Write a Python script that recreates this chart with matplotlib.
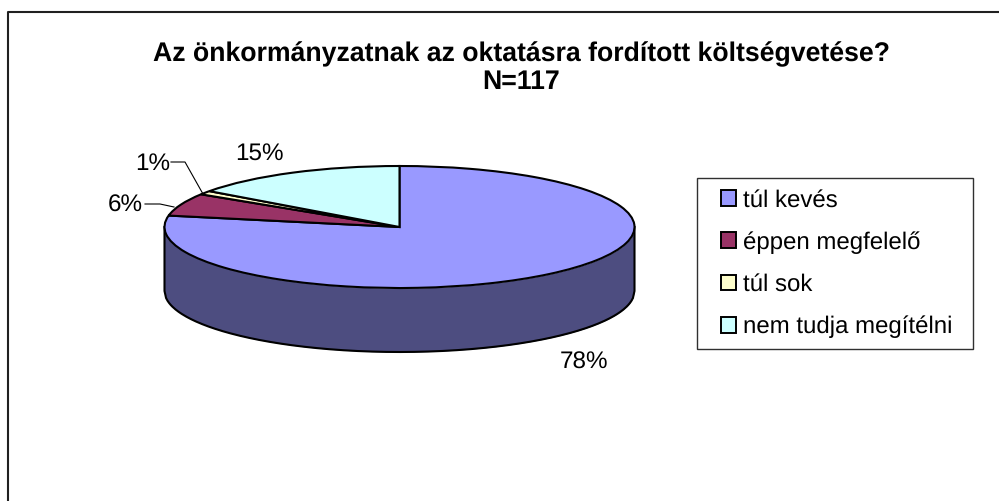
import numpy as np
import matplotlib
matplotlib.use("Agg")
import matplotlib.pyplot as plt
from matplotlib.patches import Patch, Rectangle

plt.rcParams['font.family'] = ['Liberation Sans', 'DejaVu Sans']
plt.rcParams['text.hinting'] = 'no_hinting'

W, H = 999, 501

# adatok
title = "Az önkormányzatnak az oktatásra fordított költségvetése?\nN=117"
categories = ["túl kevés", "éppen megfelelő", "túl sok", "nem tudja megítélni"]
values = [78, 6, 1, 15]
pct_labels = ["78%", "6%", "1%", "15%"]
colors = ["#9999FF", "#993366", "#FFFFCC", "#CCFFFF"]
wall_color = "#4D4D80"


def px(x, y):
    # kepernyo pixel -> figure koordinata
    return x / W, 1 - y / H


fig = plt.figure(figsize=(W / 100, H / 100), dpi=100, facecolor="white")

# keret (jobb es also szele kilog a kepbol)
bg = fig.add_axes([0, 0, 1, 1])
bg.set_xlim(0, W)
bg.set_ylim(H, 0)
bg.axis("off")
bg.plot([8, 8, 999], [501, 12, 12], color="#202020", lw=1.5, solid_capstyle="butt")

# a tengely pontosan az ellipszist fogja kozre
cx, cy, rx, ry, depth = 399.5, 227, 235, 61, 64
ax = fig.add_axes([(cx - rx) / W, 1 - (cy + ry) / H, 2 * rx / W, 2 * ry / H])
wedges, _ = ax.pie(values, colors=colors, startangle=90, counterclock=False, radius=1,
                   wedgeprops=dict(edgecolor="black", linewidth=1.5, clip_on=False, zorder=3))
ax.set_aspect("auto")
ax.set_xlim(-1, 1)
ax.set_ylim(-1, 1)

# oldalfal
x = np.linspace(-1, 1, 300)
lower = -np.sqrt(1 - x ** 2)
d = depth / ry
ax.fill_between(x, lower, lower - d, color=wall_color, clip_on=False, zorder=1, lw=0)
ax.plot(np.r_[-1, x, 1], np.r_[0, lower - d, 0], color="black", lw=1.5, clip_on=False, zorder=2)

# cimkek
label_size = 17.5
bg.text(584, 363, pct_labels[0], fontsize=label_size, ha="center", va="center", color="black")
bg.text(125.5, 206, pct_labels[1], fontsize=label_size, ha="center", va="center", color="black")
bg.text(152.5, 164, pct_labels[2], fontsize=label_size, ha="center", va="center", color="black")
bg.text(259.5, 153.5, pct_labels[3], fontsize=label_size, ha="center", va="center", color="black")
bg.plot([145, 160, 174], [204, 204, 207], color="black", lw=0.8)
bg.plot([171, 185, 203], [162, 162, 194], color="black", lw=0.8)

# cim
fig.text(521 / W, 1 - 68 / H, title, fontsize=19.2, fontweight="bold", ha="center", va="center",
         linespacing=1.12)

# jelmagyarazat
bg.add_patch(Rectangle((696.5, 177.5), 276.5, 171, facecolor="white", edgecolor="#303030", lw=1.0, zorder=2))
handles = [Patch(facecolor=c, edgecolor="black", linewidth=1.4) for c in colors]
leg = fig.legend(handles, categories, loc="upper left", bbox_to_anchor=px(721, 189),
                 bbox_transform=fig.transFigure, fontsize=17.3, frameon=False, borderaxespad=0,
                 borderpad=0, labelspacing=0.82, handlelength=0.63, handleheight=0.63, handletextpad=0.3)

fig.savefig("out.png", dpi=100)
